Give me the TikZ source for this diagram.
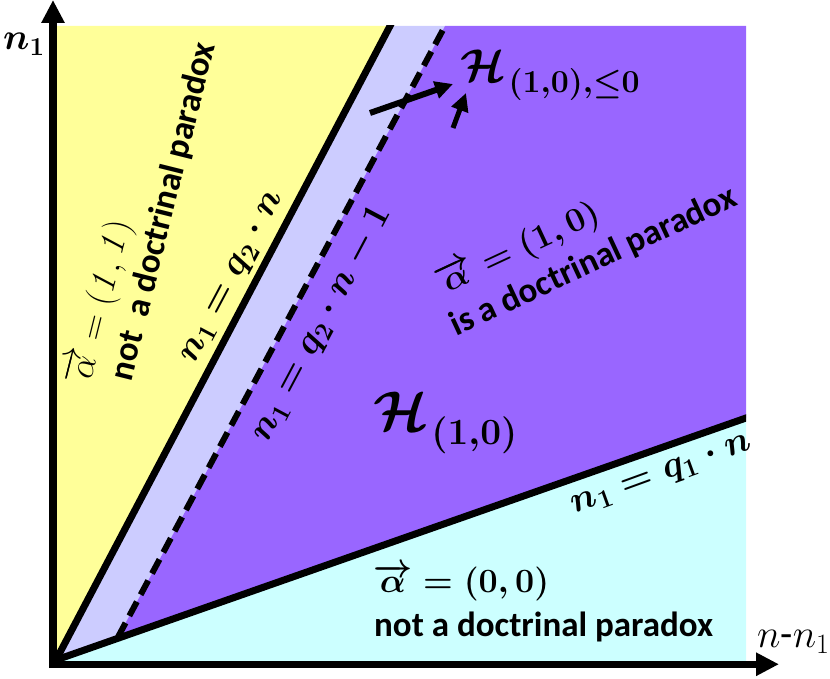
\RequirePackage{fix-cm}
\documentclass[tikz,border=0pt]{standalone}
\usepackage{amsmath}
\usepackage[no-math]{fontspec}
\setmainfont{Carlito}
\usetikzlibrary{arrows.meta,calc}
\definecolor{cyel}{HTML}{FFFF99}
\definecolor{clav}{HTML}{CCCCFF}
\definecolor{cpur}{HTML}{9966FF}
\definecolor{ccyan}{HTML}{CCFFFF}
\tikzset{
  bound/.style={line width=7pt,black},
  dashbound/.style={line width=6pt,black,dash pattern=on 16pt off 8pt},
  axisline/.style={line width=7.5pt,black,-{Triangle[length=23pt,width=22pt]}},
  ptr/.style={line width=6pt,black,-{Triangle[length=18pt,width=17pt]}},
  txt/.style={inner sep=0pt,font=\fontsize{35}{40}\selectfont\bfseries},
  mreg/.style={inner sep=0pt,font=\fontsize{36}{40}\selectfont},
  mbold/.style={inner sep=0pt,font=\fontsize{37}{40}\selectfont\boldmath},
  mbolds/.style={inner sep=0pt,font=\fontsize{34}{40}\selectfont\boldmath},
}
\begin{document}
\begin{tikzpicture}[x=1pt,y=-1pt]
\useasboundingbox (0,0) rectangle (830,679);
% region corners
\coordinate (O) at (56,660);
\coordinate (TL) at (56,26);
\coordinate (A) at (390,26);
\coordinate (B) at (445,26);
\coordinate (C) at (118,637);
\coordinate (TR) at (746,26);
\coordinate (D) at (746,418);
\coordinate (BR) at (746,661);
\coordinate (BL) at (56,661);
% fills
\fill[cyel] (O) -- (TL) -- (A) -- cycle;
\fill[clav] (O) -- (A) -- (B) -- (C) -- cycle;
\fill[cpur] (C) -- (B) -- (TR) -- (D) -- cycle;
\fill[ccyan] (O) -- (D) -- (BR) -- (BL) -- cycle;
% boundary lines
\begin{scope}
\clip (56,26) rectangle (746,661);
\draw[bound] (O) -- ($(O)!1.05!(A)$);
\draw[bound] (O) -- ($(O)!1.05!(D)$);
\draw[dashbound] (C) -- ($(C)!1.05!(B)$);
\end{scope}
% axes
\draw[axisline] (53,668) -- (53,0);
\draw[axisline] (49.25,664.25) -- (779,664.25);
\node[anchor=base west,inner sep=0pt,font=\fontsize{37}{40}\selectfont\boldmath] (ylab) at (3,50) {$n_1$};
\node[anchor=base west,inner sep=0pt,font=\fontsize{40}{44}\selectfont] (xlab) at (757,647) {$n$-$n_1$};
% yellow region text
\node[mreg,rotate=76,anchor=west] (y1) at (80,385) {$\overrightarrow{\alpha} = (\mathit{1},\mathit{1})$};
\node[txt,rotate=76,anchor=west] (y2) at (122,380) {not\ \ a doctrinal paradox};
% line labels
\node[mbold,rotate=62] (lq2) at (234,278) {$n_1 = q_2\cdot n$};
\node[mbold,rotate=62] (lq2m) at (322,324) {$n_1 = q_2\cdot n - 1$};
\node[mbold,rotate=20] (lq1) at (662,476) {$n_1 = q_1\cdot n$};
% purple region text
\node[mbolds,rotate=25,anchor=west] (p1) at (438,286) {$\overrightarrow{\alpha} = (1,0)$};
\node[txt,rotate=25,anchor=west] (p2) at (452,328) {is a doctrinal paradox};
\node[anchor=base west,inner sep=0pt] (Hmid) at (373,430)
  {{\fontsize{56}{56}\selectfont\boldmath$\mathcal{H}$}\kern3pt\raisebox{-14pt}{\fontsize{37}{37}\selectfont\boldmath$(1{,}0)$}};
\node[anchor=base west,inner sep=0pt] (Htop) at (460,82)
  {{\fontsize{46}{46}\selectfont\boldmath$\mathcal{H}$}\kern3pt\raisebox{-11pt}{\fontsize{32}{32}\selectfont\boldmath$(1{,}0){,}{\le}0$}};
% cyan region text
\node[mbolds,anchor=west] (c1) at (373,583) {$\overrightarrow{\alpha} = (0,0)$};
\node[txt,anchor=west] (c2) at (374,627) {not a doctrinal paradox};
% pointers
\coordinate (a1s) at (370,113);
\coordinate (a1e) at (453,84);
\coordinate (a2s) at (453,128);
\coordinate (a2e) at (466,93);
\draw[ptr] (a1s) -- (a1e);
\draw[ptr,line width=5pt] (a2s) -- (a2e);
\end{tikzpicture}
\end{document}
